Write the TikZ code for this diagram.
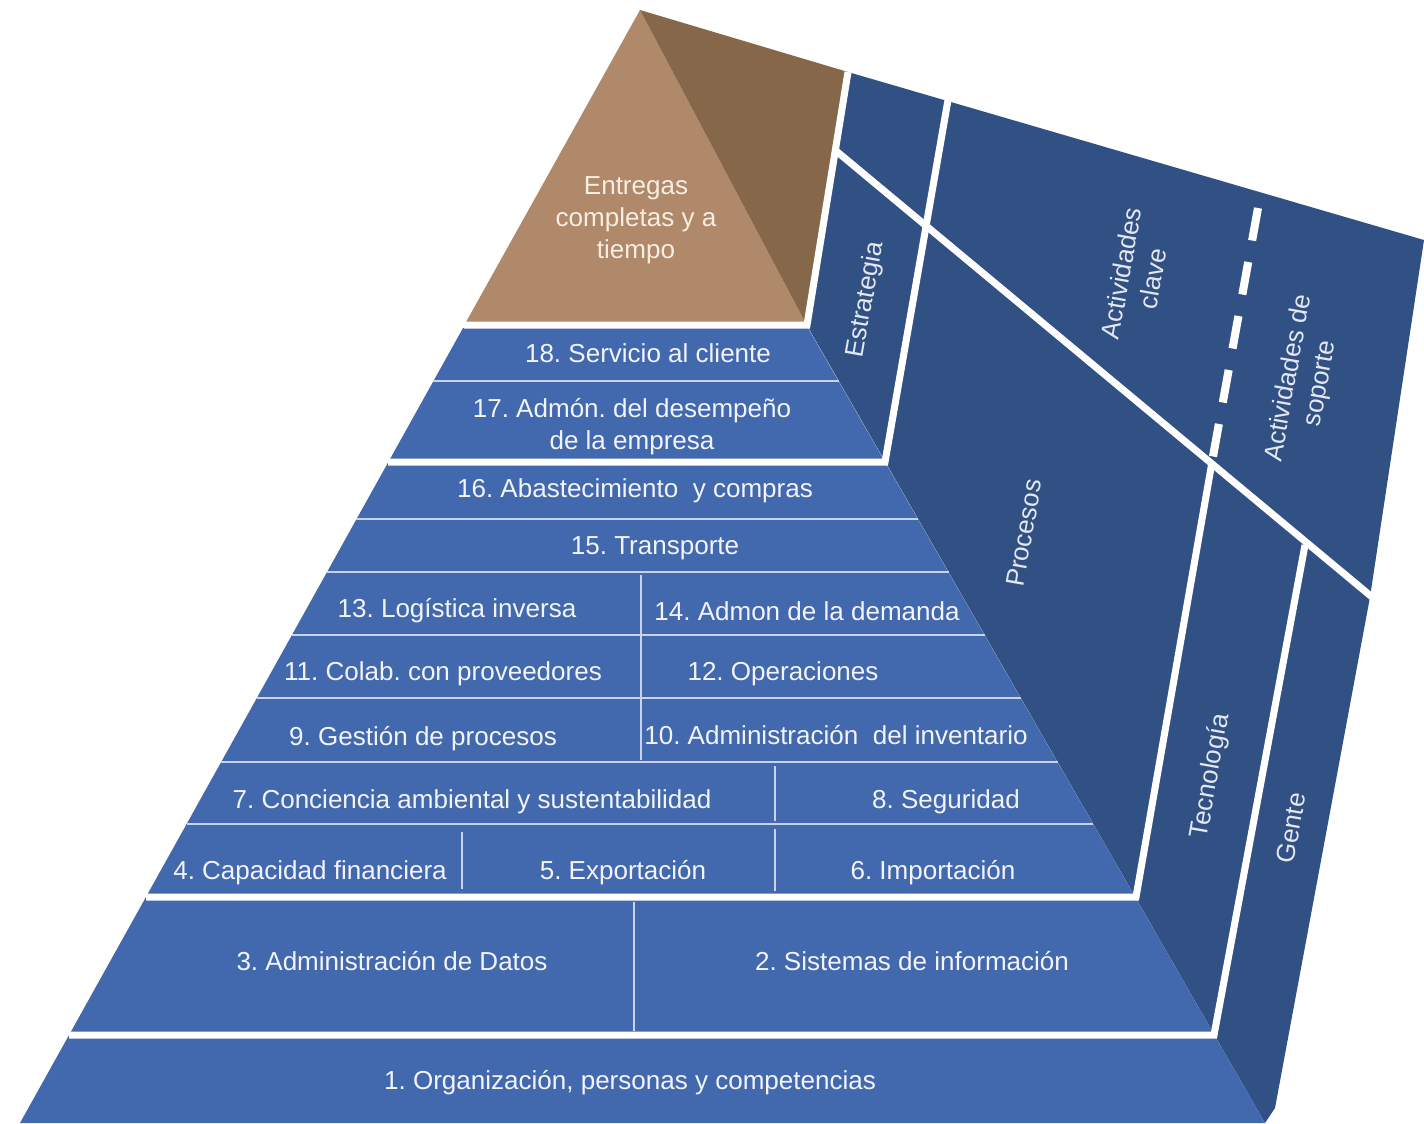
\documentclass[tikz,border=0pt]{standalone}
\usepackage{fontspec}
\setmainfont{Liberation Sans}
\usepackage{tikz}
\frenchspacing
\definecolor{frente}{HTML}{4268AE}
\definecolor{lado}{HTML}{315084}
\definecolor{arena}{HTML}{B0896A}
\definecolor{cafe}{HTML}{87674A}
\definecolor{texto}{HTML}{F2F4F9}
\definecolor{textoarena}{HTML}{F7EEE2}
\definecolor{lineaclara}{HTML}{C9D3E8}
\tikzstyle{etiqueta} = [text=texto, font=\fontsize{7.4}{9.1}\selectfont, align=center, inner sep=0pt]
\tikzstyle{lateral} = [etiqueta, text=texto!92!lado, rotate=80]
\tikzstyle{blanca} = [draw=white, line width=2pt, line join=miter]
\tikzstyle{fina} = [draw=lineaclara, line width=0.7pt]

\begin{document}
\begin{tikzpicture}[x=0.01cm, y=-0.01cm]
		\useasboundingbox (0,0) rectangle (1424,1123);
		% caras de la piramide
		\fill[lado] (848,72) -- (1424,240) -- (1370,597) -- (1275,1108) -- (1265,1123) -- (805,322) -- cycle;
		\fill[frente] (463,328) -- (808,328) -- (1265,1123) -- (20,1123) -- cycle;
		\fill[arena] (640,10) -- (805,322) -- (466,322) -- cycle;
		\fill[cafe] (640,10) -- (848,72) -- (805,322) -- cycle;
		% lineas blancas
		\draw[blanca] (464,325) -- (807,325) -- (848,72);
		\draw[blanca] (388,462) -- (885,462) -- (948,100);
		\draw[blanca] (146,897) -- (1136,897) -- (1212,462);
		\draw[blanca, line width=2.3pt, dash pattern=on 9.4pt off 6.2pt] (1258,208) -- (1212,462);
		\draw[blanca] (69,1035) -- (1214,1035) -- (1305,545);
		\draw[blanca] (835,150) -- (1372,597);
		% separadores finos
		\foreach \y/\a/\b in {381/433/839, 519/356/918, 572/327/949, 635/292/985, 698/257/1021, 762/221/1058, 824/187/1093}
			\draw[fina] (\a,\y) -- (\b,\y);
		\draw[fina] (641,575) -- (641,760);
		\draw[fina] (775,766) -- (775,821) (775,829) -- (775,891);
		\draw[fina] (462,832) -- (462,889);
		\draw[fina] (634,902) -- (634,1031);
		% textos
		\node[etiqueta, text=textoarena] (cima) at (636,220) {Entregas\\completas y a\\tiempo};
		\node[etiqueta] (f18) at (648,353) {18. Servicio al cliente};
		\node[etiqueta] (f17) at (632,427) {17. Admón. del desempeño\\de la empresa};
		\node[etiqueta] (f16) at (635,491) {16. Abastecimiento\ \ y compras};
		\node[etiqueta] (f15) at (655,548) {15. Transporte};
		\node[etiqueta] (f13) at (457,611) {13. Logística inversa};
		\node[etiqueta] (f14) at (807,611) {14. Admon de la demanda};
		\node[etiqueta] (f11) at (443,674) {11. Colab. con proveedores};
		\node[etiqueta] (f12) at (783,674) {12. Operaciones};
		\node[etiqueta] (f9) at (423,739) {9. Gestión de procesos};
		\node[etiqueta] (f10) at (836,735) {10. Administración\ \ del inventario};
		\node[etiqueta] (f7) at (472,802) {7. Conciencia ambiental y sustentabilidad};
		\node[etiqueta] (f8) at (946,802) {8. Seguridad};
		\node[etiqueta] (f4) at (310,873) {4. Capacidad financiera};
		\node[etiqueta] (f5) at (623,873) {5. Exportación};
		\node[etiqueta] (f6) at (933,873) {6. Importación};
		\node[etiqueta] (f3) at (392,961) {3. Administración de Datos};
		\node[etiqueta] (f2) at (912,961) {2. Sistemas de información};
		\node[etiqueta] (f1) at (630,1083) {1. Organización, personas y competencias};
		% textos laterales
		\node[lateral] (estrategia) at (866,300) {Estrategia};
		\node[lateral] (procesos) at (1024,533) {Procesos};
		\node[lateral] (clave) at (1137,276) {Actividades\\clave};
		\node[lateral] (soporte) at (1305,381) {Actividades de\\soporte};
		\node[lateral] (tecnologia) at (1211,776) {Tecnología};
		\node[lateral] (gente) at (1291,828) {Gente};
\end{tikzpicture}
\end{document}
